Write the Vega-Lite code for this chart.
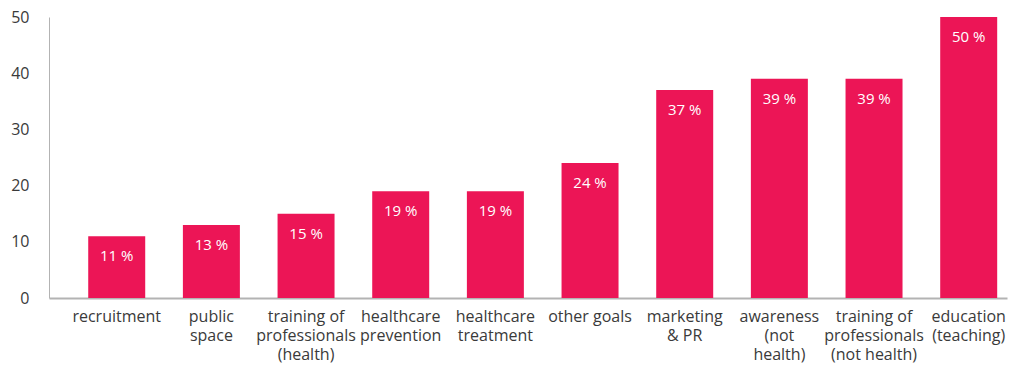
{
  "$schema": "https://vega.github.io/schema/vega-lite/v6.json",
  "autosize": "none",
  "width": 958,
  "height": 281,
  "padding": {"left": 49, "top": 17, "right": 7, "bottom": 68},
  "background": "white",
  "config": {
    "view": {"stroke": null},
    "font": "Open Sans"
  },
  "data": {
    "values": [
      {"goal": "recruitment", "value": 11},
      {"goal": "public\nspace", "value": 13},
      {"goal": "training of\nprofessionals\n(health)", "value": 15},
      {"goal": "healthcare\nprevention", "value": 19},
      {"goal": "healthcare\ntreatment", "value": 19},
      {"goal": "other goals", "value": 24},
      {"goal": "marketing\n& PR", "value": 37},
      {"goal": "awareness\n(not\nhealth)", "value": 39},
      {"goal": "training of\nprofessionals\n(not health)", "value": 39},
      {"goal": "education\n(teaching)", "value": 50}
    ]
  },
  "encoding": {
    "x": {
      "field": "goal",
      "type": "nominal",
      "sort": null,
      "scale": {"paddingInner": 0.398, "paddingOuter": 0.259, "align": 0.8},
      "axis": {
        "title": null,
        "labelAngle": 0,
        "labelExpr": "split(datum.value, '\\n')",
        "labelFontSize": 16,
        "labelColor": "#3a3a3a",
        "labelLineHeight": 19,
        "labelPadding": 10,
        "labelBaseline": "top",
        "ticks": false,
        "domainColor": "#b3b3b3",
        "domainWidth": 2
      }
    },
    "y": {
      "field": "value",
      "type": "quantitative",
      "scale": {"domain": [0, 50], "nice": false},
      "axis": {
        "title": null,
        "values": [0, 10, 20, 30, 40, 50],
        "grid": false,
        "ticks": false,
        "labelFontSize": 16,
        "labelColor": "#3a3a3a",
        "labelPadding": 20,
        "domainColor": "#b3b3b3",
        "domainWidth": 1
      }
    }
  },
  "layer": [
    {"mark": {"type": "bar", "color": "#EC1556"}},
    {
      "transform": [{"calculate": "datum.value + ' %'", "as": "label"}],
      "mark": {"type": "text", "color": "white", "fontSize": 15, "baseline": "middle", "dy": 20},
      "encoding": {"text": {"field": "label", "type": "nominal"}}
    }
  ]
}
